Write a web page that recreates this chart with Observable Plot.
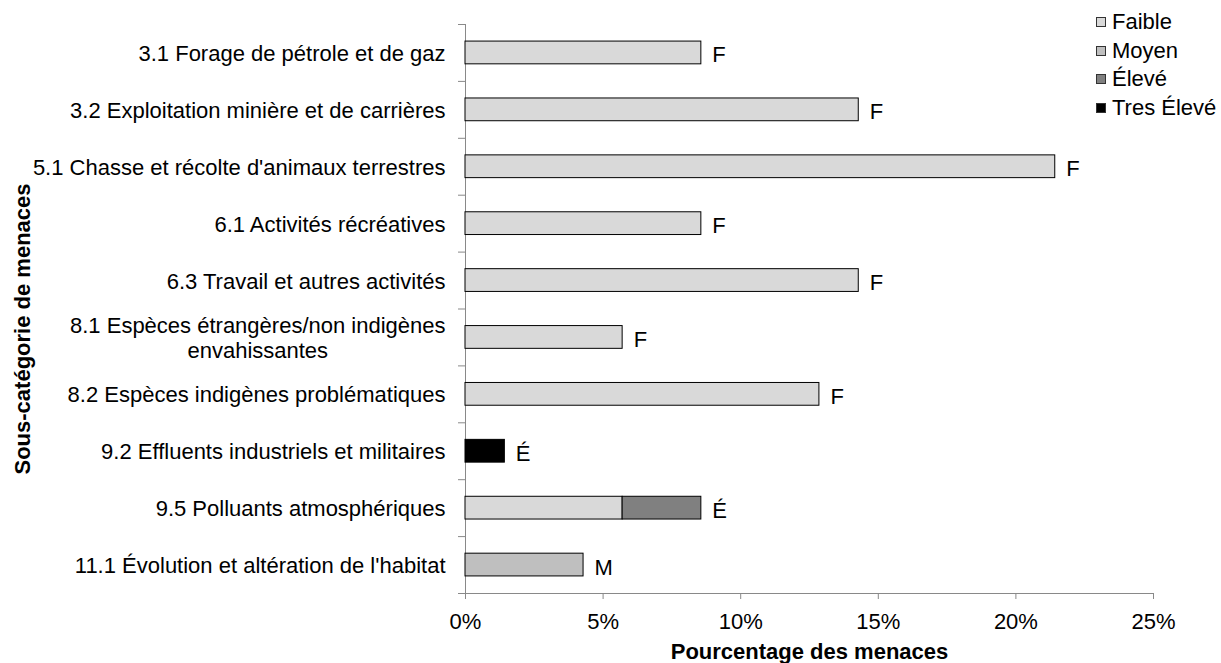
<!DOCTYPE html>
<html>
<head>
<meta charset="utf-8">
<script src="https://cdn.jsdelivr.net/npm/d3@7"></script>
<script src="https://cdn.jsdelivr.net/npm/@observablehq/plot@0.6"></script>
<style>
  html, body { margin: 0; padding: 0; background: #fff; }
  #wrap { position: relative; width: 1221px; height: 663px; overflow: hidden; font-family: "Liberation Sans", Arial, sans-serif; }
  #legend { position: absolute; left: 1096px; top: 8px; font-size: 22px; color: #000; }
  #legend .row { display: flex; align-items: center; height: 28.5px; white-space: nowrap; }
  #legend .sw { width: 8px; height: 8px; border: 1px solid #333; margin-right: 6px; flex: none; }
</style>
</head>
<body>
<div id="wrap"><div id="legend"></div></div>
<script>
// ---- Data ----
const categories = [
  "3.1 Forage de pétrole et de gaz",
  "3.2 Exploitation minière et de carrières",
  "5.1 Chasse et récolte d'animaux terrestres",
  "6.1 Activités récréatives",
  "6.3 Travail et autres activités",
  "8.1 Espèces étrangères/non indigènes\nenvahissantes",
  "8.2 Espèces indigènes problématiques",
  "9.2 Effluents industriels et militaires",
  "9.5 Polluants atmosphériques",
  "11.1 Évolution et altération de l'habitat"
];
const levels = ["Faible", "Moyen", "Élevé", "Tres Élevé"];
const faible    = [8.57, 14.29, 21.43, 8.57, 14.29, 5.71, 12.86, 0, 5.71, 0];
const moyen     = [0, 0, 0, 0, 0, 0, 0, 0, 0, 4.29];
const eleve     = [0, 0, 0, 0, 0, 0, 0, 0, 2.86, 0];
const tresEleve = [0, 0, 0, 0, 0, 0, 0, 1.43, 0, 0];
const barLabels = ["F", "F", "F", "F", "F", "F", "F", "É", "É", "M"];
const xTicks = [0, 5, 10, 15, 20, 25];
const levelColors = ["#d9d9d9", "#bfbfbf", "#808080", "#000000"];

// ---- Build tables ----
const series = [faible, moyen, eleve, tresEleve];
const rows = [];
levels.forEach((lv, j) => series[j].forEach((v, i) => {
  if (v > 0) rows.push({cat: categories[i], level: lv, value: v});
}));
const totals = categories.map((c, i) => ({
  cat: c,
  total: faible[i] + moyen[i] + eleve[i] + tresEleve[i],
  label: barLabels[i]
}));

const W = 1221, H = 663, mL = 465, mR = 68, mT = 24, mB = 70;
const pIn = 0.6, pOut = 0.3;
const step = (H - mT - mB) / (categories.length - pIn + 2 * pOut);
const axisGray = "#898989";
const fs = 22;

const chart = Plot.plot({
  width: W, height: H,
  marginLeft: mL, marginRight: mR, marginTop: mT, marginBottom: mB,
  style: {fontFamily: "'Liberation Sans', Arial, sans-serif", fontSize: fs + "px", color: "#000", background: "#fff", overflow: "visible"},
  x: {domain: [0, 25]},
  y: {domain: categories, paddingInner: pIn, paddingOuter: pOut, round: false, axis: null},
  color: {domain: levels, range: levelColors},
  marks: [
    Plot.ruleX([0], {stroke: axisGray}),
    Plot.ruleY(categories.slice(-1), {y: d => d, dy: step / 2, stroke: axisGray}),
    Plot.ruleY(categories, {y: d => d, x1: 0, x2: 0, insetLeft: -7, dy: -step / 2, stroke: axisGray}),
    Plot.ruleY(categories.slice(-1), {y: d => d, x1: 0, x2: 0, insetLeft: -7, dy: step / 2, stroke: axisGray}),
    Plot.axisX({ticks: xTicks, tickFormat: d => d + "%", tickSize: 6, tickPadding: 14, stroke: axisGray, fill: "#000", label: null, fontSize: fs}),
    Plot.axisY({tickSize: 0, tickPadding: 20, lineHeight: 1.15, label: null, fontSize: fs, fill: "#000"}),
    Plot.barX(rows, Plot.stackX({y: "cat", x: "value", fill: "level", stroke: "#000", strokeWidth: 1})),
    Plot.text(totals, {y: "cat", x: "total", text: "label", textAnchor: "start", dx: 11, dy: 2.5, fontSize: fs, fill: "#000"}),
    Plot.text(["Pourcentage des menaces"], {frameAnchor: "bottom", text: d => d, dy: 50, lineAnchor: "top", textAnchor: "middle", fontWeight: "bold", fontSize: fs, fill: "#000"}),
    Plot.text(["Sous-catégorie de menaces"], {frameAnchor: "left", text: d => d, dx: -443, dy: 20, rotate: -90, textAnchor: "middle", lineAnchor: "middle", fontWeight: "bold", fontSize: fs, fill: "#000"})
  ]
});

const wrap = document.getElementById("wrap");
wrap.insertBefore(chart, wrap.firstChild);

// center-align lines of multi-line category labels (as in the original)
chart.querySelectorAll('g[aria-label="y-axis tick label"] text').forEach(t => {
  const spans = t.querySelectorAll("tspan");
  if (spans.length > 1) {
    let maxW = 0;
    spans.forEach(s => { maxW = Math.max(maxW, s.getComputedTextLength()); });
    t.setAttribute("text-anchor", "middle");
    spans.forEach(s => s.setAttribute("x", -maxW / 2));
  }
});

// legend
const legend = document.getElementById("legend");
levels.forEach((lv, i) => {
  const row = document.createElement("div");
  row.className = "row";
  const sw = document.createElement("span");
  sw.className = "sw";
  sw.style.background = levelColors[i];
  const tx = document.createElement("span");
  tx.textContent = lv;
  row.appendChild(sw); row.appendChild(tx);
  legend.appendChild(row);
});
</script>
</body>
</html>
